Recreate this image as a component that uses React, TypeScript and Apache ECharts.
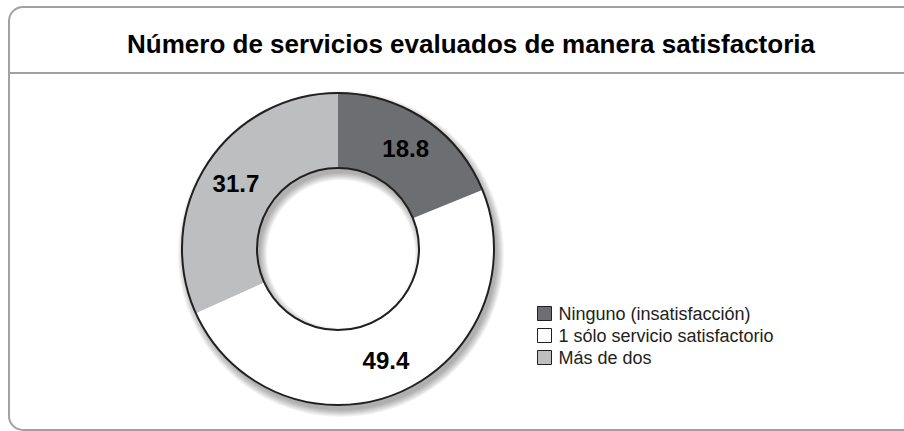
import React, { useEffect, useRef } from "react";
import * as echarts from "echarts";

const categories = ["Ninguno (insatisfacción)", "1 sólo servicio satisfactorio", "Más de dos"];
const values = [18.8, 49.4, 31.7];
const colors = ["#6d6e71", "#ffffff", "#bcbec0"];
const titleText = "Número de servicios evaluados de manera satisfactoria";

export default function App() {
  const ref = useRef<HTMLDivElement>(null);
  useEffect(() => {
    if (!ref.current) return;
    const chart = echarts.init(ref.current, null, { renderer: "svg" });
    const cx = 338;
    const cy = 249;
    const rIn = 81;
    const rOut = 156;
    const center = [cx, cy];
    const radius = [rIn, rOut];
    const font = "'Liberation Sans', Arial, Helvetica, sans-serif";
    const shadowRings: any[] = [];
    for (let k = 0; k < 8; k++) {
      shadowRings.push({
        type: "ring",
        shape: { cx: cx + 3, cy: cy + 5, r: rOut + k, r0: Math.max(0, rIn - k) },
        style: { fill: "rgba(0,0,0,0.045)" },
        silent: true,
        z: 0,
      });
    }
    chart.setOption({
      animation: false,
      backgroundColor: "#ffffff",
      legend: {
        orient: "vertical",
        left: 537,
        top: 304,
        padding: 0,
        icon: "rect",
        itemWidth: 14,
        itemHeight: 14,
        itemGap: 3,
        selectedMode: false,
        data: categories,
        itemStyle: { borderColor: "#231f20", borderWidth: 1 },
        textStyle: { fontFamily: font, fontSize: 18, lineHeight: 19, color: "#231f20", padding: [0, 0, 0, 2] },
      },
      graphic: [
        {
          type: "rect",
          shape: { x: 9, y: 7, width: 1000, height: 423, r: 14 },
          style: { fill: "none", stroke: "#a0a1a4", lineWidth: 2 },
          silent: true,
          z: 0,
        },
        {
          type: "line",
          shape: { x1: 9, y1: 73, x2: 904, y2: 73 },
          style: { stroke: "#a0a1a4", lineWidth: 2 },
          silent: true,
          z: 0,
        },
        {
          type: "text",
          x: 471,
          y: 44,
          style: {
            text: titleText,
            fontFamily: font,
            fontWeight: "bold",
            fontSize: 26,
            fill: "#000000",
            textAlign: "center",
            textVerticalAlign: "middle",
          },
          silent: true,
          z: 1,
        },
        ...shadowRings,
      ],
      series: [
        {
          type: "pie",
          center,
          radius,
          startAngle: 90,
          clockwise: true,
          z: 2,
          silent: true,
          itemStyle: { borderWidth: 0 },
          label: {
            show: true,
            position: "inside",
            formatter: (p: any) => p.value.toFixed(1),
            fontFamily: font,
            fontWeight: "bold",
            fontSize: 24,
            color: "#000000",
          },
          labelLine: { show: false },
          data: categories.map((c, i) => ({ name: c, value: values[i], itemStyle: { color: colors[i] } })),
        },
        {
          type: "pie",
          center,
          radius,
          z: 3,
          silent: true,
          label: { show: false },
          labelLine: { show: false },
          data: [{ value: 1, name: "__outline" }],
          itemStyle: { color: "rgba(0,0,0,0)", borderColor: "#231f20", borderWidth: 2 },
        },
      ],
    });
    return () => chart.dispose();
  }, []);
  return <div ref={ref} style={{ position: "fixed", left: 0, top: 0, width: 904, height: 431 }} />;
}
